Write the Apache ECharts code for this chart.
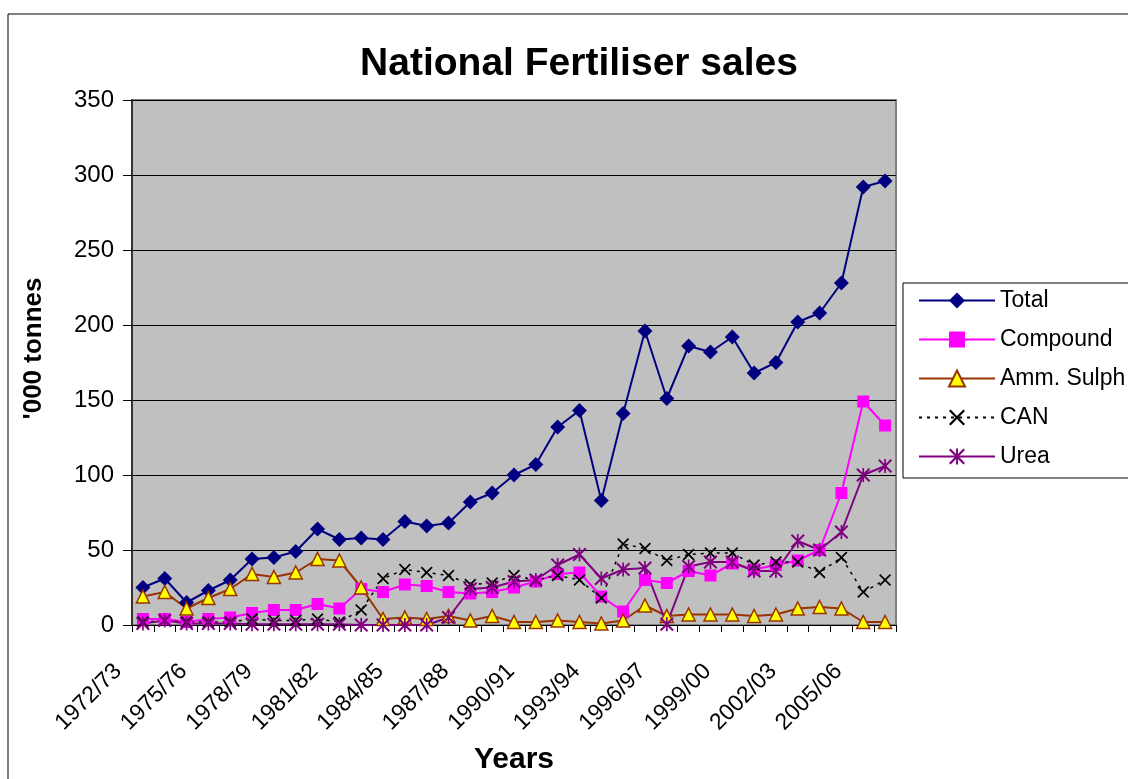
<!DOCTYPE html>
<html><head><meta charset="utf-8">
<script src="https://cdn.jsdelivr.net/npm/echarts@6/dist/echarts.min.js"></script>
<style>html,body{margin:0;padding:0;background:#fff}#c{width:1128px;height:779px}</style>
</head><body><div id="c"></div>
<script>
const categories = ['1972/73','1973/74','1974/75','1975/76','1976/77','1977/78','1978/79','1979/80','1980/81','1981/82','1982/83','1983/84','1984/85','1985/86','1986/87','1987/88','1988/89','1989/90','1990/91','1991/92','1992/93','1993/94','1994/95','1995/96','1996/97','1997/98','1998/99','1999/00','2000/01','2001/02','2002/03','2003/04','2004/05','2005/06','2006/07'];
const total =    [25,31,15,23,30,44,45,49,64,57,58,57,69,66,68,82,88,100,107,132,143,83,141,196,151,186,182,192,168,175,202,208,228,292,296];
const compound = [4,4,2,4,5,8,10,10,14,11,24,22,27,26,22,21,22,25,29,34,35,19,9,30,28,36,33,41,37,40,43,50,88,149,133];
const ammSulph = [19,22,11,18,24,34,32,35,44,43,25,4,5,4,6,3,6,2,2,3,2,1,3,13,6,7,7,7,6,7,11,12,11,2,2];
const can =      [2,3,2,2,2,4,3,3,4,2,10,31,37,35,33,27,28,33,30,33,30,18,54,51,43,47,48,48,40,42,42,35,45,22,30];
const urea =     [1,3,1,1,1,0.5,0.5,0.5,0.5,0.5,0,0,0,0,5,24,25,29,30,40,47,31,37,38,0.5,39,42,42,36,36,56,50,62,100,106];
const yTicks = [0,50,100,150,200,250,300,350];

const FONT = '"Liberation Sans", Arial, sans-serif';
const xSym = 'path://M0,1L1,0L5,4L9,0L10,1L6,5L10,9L9,10L5,6L1,10L0,9L4,5Z';
const starSym = 'path://M0,1L1,0L5,4L9,0L10,1L6,5L10,9L9,10L5,6L1,10L0,9L4,5Z M4.4,0L5.6,0L5.6,10L4.4,10Z';

const chart = echarts.init(document.getElementById('c'), null, {renderer:'canvas'});
chart.setOption({
  animation:false,
  backgroundColor:'#ffffff',
  title:{text:'National Fertiliser sales',left:574,textAlign:'center',top:40,
    textStyle:{fontFamily:FONT,fontSize:39,fontWeight:'bold',color:'#000'}},
  graphic:[{type:'rect',shape:{x:8,y:14,width:1200,height:800},style:{fill:'none',stroke:'#000',lineWidth:1},z:-10}],
  grid:{left:132,top:100,right:232,bottom:154,outerBoundsMode:'none',containLabel:false,show:true,backgroundColor:'#C0C0C0',borderColor:'#808080',borderWidth:2},
  legend:{orient:'vertical',left:903,top:283,padding:[6,30,10,15],itemWidth:76,itemHeight:20,itemGap:16,
    backgroundColor:'#fff',borderColor:'#000',borderWidth:1,
    textStyle:{fontFamily:FONT,fontSize:23,color:'#000'},
    data:['Total','Compound','Amm. Sulph','CAN','Urea']},
  xAxis:{type:'category',data:categories,boundaryGap:true,
    name:'Years',nameLocation:'middle',nameGap:120,
    nameTextStyle:{fontFamily:FONT,fontSize:30,fontWeight:'bold',color:'#000'},
    axisLine:{lineStyle:{color:'#000',width:1}},
    axisTick:{show:true,interval:0,length:7,lineStyle:{color:'#000'}},
    axisLabel:{interval:2,rotate:45,fontFamily:FONT,fontSize:23,color:'#000',margin:18,padding:[0,35,0,0]},
    splitLine:{show:false}},
  yAxis:{type:'value',min:0,max:350,interval:50,
    name:"'000 tonnes",nameLocation:'middle',nameGap:85,
    nameTextStyle:{fontFamily:FONT,fontSize:26,fontWeight:'bold',color:'#000',padding:[0,0,0,28]},
    axisLine:{show:true,lineStyle:{color:'#333',width:2}},
    axisTick:{show:true,length:9,lineStyle:{color:'#000'}},
    axisLabel:{fontFamily:FONT,fontSize:24,color:'#000',margin:18,
      formatter:v=>yTicks.includes(v)?String(v):''},
    splitLine:{show:true,lineStyle:{color:'#000',width:1}}},
  series:[
    {name:'Total',type:'line',data:total,symbol:'diamond',symbolSize:15,showAllSymbol:true,
      lineStyle:{color:'#000080',width:2},itemStyle:{color:'#000080'}},
    {name:'Compound',type:'line',data:compound,symbol:'rect',symbolSize:12,showAllSymbol:true,
      lineStyle:{color:'#FF00FF',width:2},itemStyle:{color:'#FF00FF'}},
    {name:'Amm. Sulph',type:'line',data:ammSulph,symbol:'triangle',symbolSize:13,showAllSymbol:true,
      lineStyle:{color:'#993300',width:2},itemStyle:{color:'#FFFF00',borderColor:'#993300',borderWidth:1.5}},
    {name:'CAN',type:'line',data:can,symbol:xSym,symbolSize:12,showAllSymbol:true,
      lineStyle:{color:'#000',width:1.5,type:[3,5]},itemStyle:{color:'#000'}},
    {name:'Urea',type:'line',data:urea,symbol:starSym,symbolSize:14,showAllSymbol:true,
      lineStyle:{color:'#800080',width:2},itemStyle:{color:'#800080'}}
  ]
});
</script></body></html>
